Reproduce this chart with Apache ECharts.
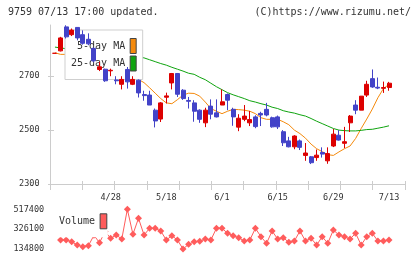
<!DOCTYPE html>
<html>
<head>
<meta charset="utf-8">
<script src="https://cdn.jsdelivr.net/npm/echarts@6/dist/echarts.min.js"></script>
<style>
html,body{margin:0;padding:0;background:#fff;}
#chart{width:420px;height:259px;}
</style>
</head>
<body>
<div id="chart"></div>
<script>
// ---- data ----
const dates = ['4/14','4/15','4/16','4/17','4/20','4/21','4/22','4/23','4/24','4/27','4/28','4/30',
'5/1','5/7','5/8','5/11','5/12','5/13','5/14','5/15','5/18','5/19','5/20','5/21','5/22','5/25','5/26','5/27','5/28','5/29',
'6/1','6/2','6/3','6/4','6/5','6/8','6/9','6/10','6/11','6/12','6/15','6/16','6/17','6/18','6/19','6/22','6/23','6/24','6/25','6/26',
'6/29','6/30','7/1','7/2','7/3','7/6','7/7','7/8','7/9','7/10','7/13'];
const tickLabels = ['4/28','5/18','6/1','6/15','6/29','7/13'];
const priceTicks = [2300, 2500, 2700];
const volumeTicks = [134800, 326100, 517400];

const open  = [2785,2794,2883,2854,2881,2854,2837,2803,2725,2726,2720,2686,2670,2725,2670,2685,2632,2630,2574,2541,
               2622,2675,2710,2648,2610,2601,2574,2527,2589,2564,2593,2632,2577,2511,2540,2527,2549,2562,2577,2546,
               2549,2494,2460,2438,2460,2406,2401,2398,2417,2386,2441,2481,2451,2527,2593,2574,2630,2691,2659,2655,2658];
const close = [2785,2842,2846,2871,2842,2822,2820,2757,2735,2683,2722,2683,2688,2679,2688,2638,2628,2593,2534,2601,
               2627,2710,2633,2617,2607,2570,2540,2574,2559,2549,2605,2611,2549,2544,2552,2539,2513,2556,2556,2512,
               2512,2453,2438,2478,2436,2415,2379,2407,2411,2413,2485,2463,2457,2552,2574,2626,2670,2660,2656,2658,2674];
const low   = [2785,2792,2840,2849,2833,2817,2815,2752,2719,2679,2700,2670,2651,2654,2667,2621,2609,2593,2510,2530,
               2599,2651,2623,2612,2580,2531,2527,2511,2540,2547,2593,2574,2516,2496,2533,2515,2507,2515,2551,2509,
               2504,2441,2436,2429,2426,2386,2374,2386,2398,2375,2437,2461,2433,2493,2559,2574,2623,2657,2652,2638,2646];
const high  = [2785,2846,2889,2877,2881,2870,2859,2807,2753,2728,2728,2700,2700,2734,2700,2688,2646,2646,2580,2604,
               2639,2712,2712,2652,2623,2611,2577,2583,2614,2614,2651,2636,2583,2559,2593,2571,2555,2568,2601,2550,
               2554,2500,2475,2481,2465,2452,2404,2428,2436,2436,2504,2500,2512,2556,2611,2626,2683,2725,2695,2680,2679];

const ma5  = [2787,2781,2781,2795,2810,2825,2835,2820,2795,2768,2744,2722,2710,2705,2694,2688,2676,2657,2637,2617,
              2601,2598,2613,2630,2637,2636,2626,2604,2580,2570,2561,2570,2577,2576,2574,2570,2561,2546,2540,2540,
              2540,2531,2520,2500,2487,2470,2448,2431,2420,2409,2406,2419,2431,2441,2469,2506,2541,2578,2620,2654,2670];
const ma25 = [2808,2805,2802,2800,2798,2796,2794,2792,2790,2788,2786,2783,2780,2777,2774,2771,2768,2761,2754,2747,
              2741,2733,2726,2719,2711,2707,2696,2687,2674,2661,2650,2639,2631,2624,2617,2609,2604,2598,2593,2585,
              2580,2572,2567,2563,2557,2552,2543,2533,2524,2515,2506,2500,2498,2497,2497,2499,2502,2503,2507,2511,2516];

const volume = [null,216200,216200,199500,167200,150500,160300,262000,189700,300000,232900,265300,226000,517400,272100,429100,
                265300,331000,331000,304500,216200,258400,216200,128000,174000,199500,203000,226000,216200,331000,331000,
                282000,258400,238800,206400,216200,331000,248600,183800,304500,226000,238800,193700,206400,304500,206400,
                232900,167200,248600,183800,314300,265300,248600,226000,282000,167200,248600,282000,206400,206400,216200];

// ---- chart ----
const FONT = '"DejaVu Sans Mono", monospace';
const RED = '#dd0000', BLUE = '#4343c8', ORANGE = '#f58a0c', GREEN = '#0fa40f', VOL = '#ff5c5c';
const AXIS = '#cccccc';
const plain = v => String(v);

const ohlc = dates.map((d, i) => [open[i], close[i], low[i], high[i]]);

const chart = echarts.init(document.getElementById('chart'), null, {renderer: 'canvas'});
chart.setOption({
  animation: false,
  backgroundColor: '#fff',
  title: [
    {text: '9759 07/13 17:00 updated.', left: 8, top: 7, padding: 0,
     textStyle: {fontFamily: FONT, fontSize: 10, fontWeight: 'normal', color: '#333'}},
    {text: '(C)https://www.rizumu.net/', right: 9, top: 7, padding: 0,
     textStyle: {fontFamily: FONT, fontSize: 10, fontWeight: 'normal', color: '#333'}}
  ],
  grid: [
    {left: 50, top: 25, width: 355, height: 159},
    {left: 52.2, top: 25, width: 339.6, height: 159},
    {left: 52.2, top: 209.3, width: 339.6, height: 39}
  ],
  xAxis: [
    {gridIndex: 0, type: 'value', min: 0, max: 11, interval: 1, position: 'bottom',
     axisLine: {show: true, lineStyle: {color: AXIS}},
     axisTick: {show: true, inside: false, length: 6, lineStyle: {color: AXIS}},
     axisLabel: {show: false}, splitLine: {show: false}},
    {gridIndex: 0, type: 'value', min: 0, max: 11, interval: 1, position: 'bottom',
     axisLine: {show: false},
     axisTick: {show: true, inside: true, length: 3, lineStyle: {color: AXIS}},
     axisLabel: {show: false}, splitLine: {show: false}},
    {gridIndex: 1, type: 'category', data: dates, boundaryGap: true, position: 'bottom',
     axisLine: {show: false}, axisTick: {show: false}, splitLine: {show: false},
     axisLabel: {interval: (i, v) => tickLabels.includes(v), margin: 9,
                 fontFamily: FONT, fontSize: 8.5, color: '#333'}},
    {gridIndex: 2, type: 'category', data: dates, boundaryGap: true, show: false}
  ],
  yAxis: [
    {gridIndex: 0, type: 'value', min: 2300, max: 2890, position: 'left',
     axisLine: {show: true, lineStyle: {color: AXIS}},
     axisTick: {show: true, inside: false, length: 2, customValues: priceTicks, lineStyle: {color: AXIS}},
     axisLabel: {customValues: priceTicks, formatter: plain, margin: 10.5, fontFamily: FONT, fontSize: 8.5, color: '#333'},
     splitLine: {show: false}},
    {gridIndex: 0, type: 'value', min: 2300, max: 2890, position: 'left',
     axisLine: {show: false},
     axisTick: {show: true, inside: true, length: 4, customValues: priceTicks, lineStyle: {color: AXIS}},
     axisLabel: {show: false}, splitLine: {show: false}},
    {gridIndex: 1, type: 'value', min: 2300, max: 2890, show: false, splitLine: {show: false}},
    {gridIndex: 2, type: 'value', min: 134800, max: 517400, position: 'left',
     axisLine: {show: false}, axisTick: {show: false}, splitLine: {show: false},
     axisLabel: {customValues: volumeTicks, formatter: plain, margin: 8, fontFamily: FONT, fontSize: 8.5, color: '#333'}}
  ],
  legend: [
    {data: [
       {name: '5-day MA', itemStyle: {color: ORANGE, borderColor: '#444', borderWidth: 1}},
       {name: '25-day MA', itemStyle: {color: GREEN, borderColor: '#444', borderWidth: 1}}],
     orient: 'vertical', left: 65, top: 30, align: 'right', icon: 'rect',
     itemWidth: 6, itemHeight: 15, itemGap: 1.5, padding: [8, 6, 8, 6],
     backgroundColor: '#fff', borderColor: '#cfcfcf', borderWidth: 1, selectedMode: false,
     formatter: n => n.padStart(9, ' '),
     textStyle: {fontFamily: FONT, fontSize: 10, color: '#333'}, z: 4},
    {data: [{name: 'Volume', itemStyle: {color: VOL, borderColor: '#444', borderWidth: 1}}],
     orient: 'vertical', left: 55, top: 205.3, align: 'right', icon: 'rect',
     itemWidth: 6.7, itemHeight: 15, padding: [8, 0.5, 8, 4],
     backgroundColor: '#fff', selectedMode: false,
     textStyle: {fontFamily: FONT, fontSize: 10, color: '#333'}, z: 4}
  ],
  series: [
    {name: '5-day MA', type: 'line', xAxisIndex: 2, yAxisIndex: 2, data: ma5,
     showSymbol: false, symbol: 'none', lineStyle: {width: 1, color: ORANGE}, itemStyle: {color: ORANGE},
     z: 2, silent: true},
    {name: '25-day MA', type: 'line', xAxisIndex: 2, yAxisIndex: 2, data: ma25,
     showSymbol: false, symbol: 'none', lineStyle: {width: 1, color: GREEN}, itemStyle: {color: GREEN},
     z: 2, silent: true},
    {name: 'price', type: 'candlestick', xAxisIndex: 2, yAxisIndex: 2, data: ohlc,
     barWidth: 4.5,
     itemStyle: {color: RED, color0: BLUE, borderColor: RED, borderColor0: BLUE, borderWidth: 1},
     z: 5, silent: true},
    {name: 'Volume', type: 'line', xAxisIndex: 3, yAxisIndex: 3, data: volume,
     symbol: 'diamond', symbolSize: 7, showAllSymbol: true, clip: false, connectNulls: false,
     lineStyle: {width: 1, color: VOL}, itemStyle: {color: VOL}, z: 2, silent: true}
  ]
});
</script>
</body>
</html>
